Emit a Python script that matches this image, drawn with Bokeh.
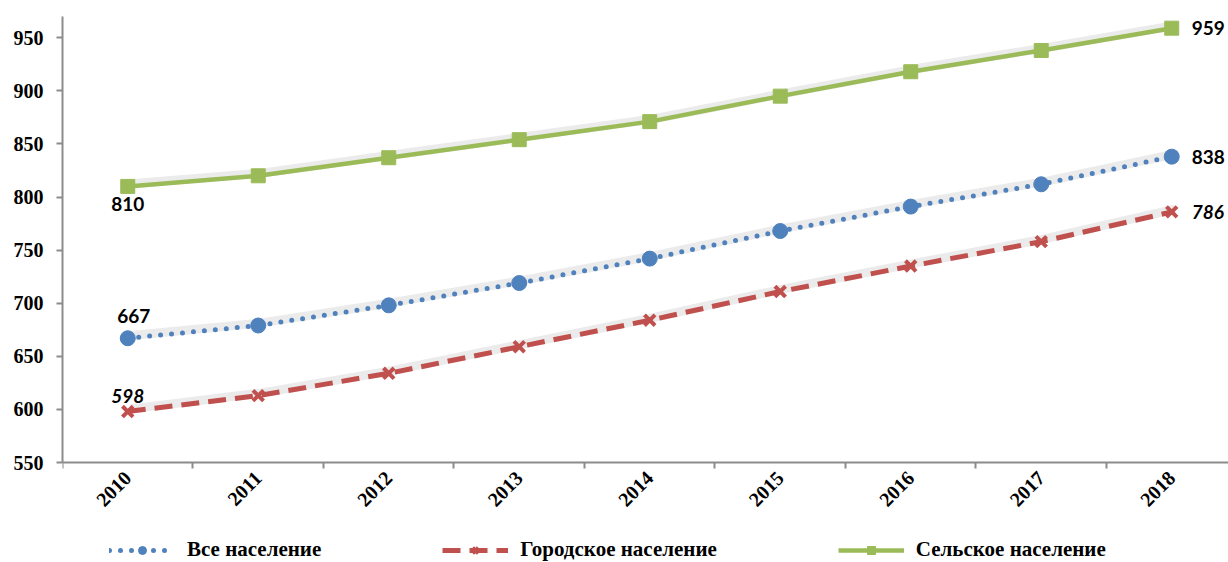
import math
from bokeh.plotting import figure
from bokeh.models import ColumnDataSource, Range1d, FixedTicker, Legend, LegendItem
from bokeh.transform import dodge
from bokeh.core.properties import value
from bokeh.embed import file_html
from bokeh.resources import INLINE

years = ["2010", "2011", "2012", "2013", "2014", "2015", "2016", "2017", "2018"]
total = [667, 679, 698, 719, 742, 768, 791, 812, 838]
urban = [598, 613, 634, 659, 684, 711, 735, 758, 786]
rural = [810, 820, 837, 854, 871, 895, 918, 938, 959]
series_names = ["Все население", "Городское население", "Сельское население"]
y_ticks = [550, 600, 650, 700, 750, 800, 850, 900, 950]
y_min, y_max = 550, 970

BLUE = "#4F81BD"
RED = "#C0504D"
GREEN = "#9BBB59"

xs = [i + 0.5 for i in range(len(years))]
src = ColumnDataSource(dict(x=xs, total=total, urban=urban, rural=rural))

# frame extends below the value axis to host the axis labels and the legend
px_per_unit = 446 / (y_max - y_min)
extra_px = 118
p = figure(frame_width=1166, frame_height=446 + extra_px, output_backend="svg",
           toolbar_location=None,
           x_range=Range1d(0, 8.935),
           y_range=Range1d(y_min - extra_px / px_per_unit, y_max),
           min_border_left=62, min_border_right=0, min_border_top=16, min_border_bottom=0)
p.outline_line_color = None
p.xgrid.visible = False
p.ygrid.visible = False
p.background_fill_color = "white"

# shadows
for col in ["rural", "total", "urban"]:
    p.line(x=dodge("x", 0.025), y=dodge(col, 2.5), source=src, line_color="#000000",
           line_alpha=0.08, line_width=9)

r_total = p.line("x", "total", source=src, line_color=BLUE, line_width=5,
                 line_dash="0 11", line_cap="round")
s_total = p.scatter("x", "total", source=src, marker="circle", size=15,
                    fill_color=BLUE, line_color=BLUE)
r_urban = p.line("x", "urban", source=src, line_color=RED, line_width=5,
                 line_dash="18 9")
s_urban = p.scatter("x", "urban", source=src, marker="x", size=15,
                    line_color=RED, line_width=4)
r_rural = p.line("x", "rural", source=src, line_color=GREEN, line_width=4.5)
s_rural = p.scatter("x", "rural", source=src, marker="square", size=14,
                    fill_color=GREEN, line_color=GREEN)

# data labels
lab_font = value("Lato")
first, last = 0, len(years) - 1
p.text(x=[xs[first]], y=[rural[first]], text=[str(rural[first])], text_font=lab_font,
       text_font_style="bold", text_font_size="19px", text_align="center",
       text_baseline="middle", y_offset=18, text_color="black")
p.text(x=[xs[first]], y=[total[first]], text=[str(total[first])], text_font=lab_font,
       text_font_style="bold", text_font_size="19px", text_align="center",
       text_baseline="middle", y_offset=-22, x_offset=6, text_color="black")
p.text(x=[xs[first]], y=[urban[first]], text=[str(urban[first])], text_font=lab_font,
       text_font_style="bold italic", text_font_size="19px", text_align="center",
       text_baseline="middle", y_offset=-16, text_color="black")
p.text(x=[xs[last]], y=[rural[last]], text=[str(rural[last])], text_font=lab_font,
       text_font_style="bold", text_font_size="19px", text_align="left",
       text_baseline="middle", x_offset=20, text_color="black")
p.text(x=[xs[last]], y=[total[last]], text=[str(total[last])], text_font=lab_font,
       text_font_style="bold", text_font_size="19px", text_align="left",
       text_baseline="middle", x_offset=20, text_color="black")
p.text(x=[xs[last]], y=[urban[last]], text=[str(urban[last])], text_font=lab_font,
       text_font_style="bold italic", text_font_size="19px", text_align="left",
       text_baseline="middle", x_offset=20, text_color="black")

# axes
serif = "Liberation Serif"
p.xaxis.fixed_location = y_min
p.xaxis.ticker = FixedTicker(ticks=xs, minor_ticks=list(range(len(years) + 1)))
p.xaxis.major_label_overrides = {x: y for x, y in zip(xs, years)}
p.xaxis.major_tick_out = 0
p.xaxis.major_tick_in = 0
p.xaxis.minor_tick_out = 6
p.xaxis.minor_tick_in = 0
p.xaxis.major_label_orientation = math.pi / 4
p.xaxis.major_label_text_font = serif
p.xaxis.major_label_text_font_style = "bold"
p.xaxis.major_label_text_font_size = "20px"
p.xaxis.major_label_text_color = "black"
p.xaxis.major_label_standoff = 6
p.xaxis.axis_line_color = "#8C8C8C"
p.xaxis.axis_line_width = 2
p.xaxis.minor_tick_line_color = "#8C8C8C"
p.xaxis.minor_tick_line_width = 2

p.yaxis.bounds = (y_min, y_max)
p.yaxis.ticker = FixedTicker(ticks=y_ticks, minor_ticks=[])
p.yaxis.major_tick_out = 6
p.yaxis.major_tick_in = 0
p.yaxis.major_label_text_font = serif
p.yaxis.major_label_text_font_style = "bold"
p.yaxis.major_label_text_font_size = "20px"
p.yaxis.major_label_text_color = "black"
p.yaxis.major_label_standoff = 13
p.yaxis.axis_line_color = "#8C8C8C"
p.yaxis.axis_line_width = 2
p.yaxis.major_tick_line_color = "#8C8C8C"
p.yaxis.major_tick_line_width = 2

legend = Legend(items=[
    LegendItem(label=series_names[0], renderers=[r_total, s_total]),
    LegendItem(label=series_names[1], renderers=[r_urban, s_urban]),
    LegendItem(label=series_names[2], renderers=[r_rural, s_rural]),
], orientation="horizontal", location=(47, 18), spacing=121, glyph_width=66,
    label_standoff=12, border_line_color=None, background_fill_alpha=0,
    label_text_font=serif, label_text_font_style="bold", label_text_font_size="21px",
    label_text_color="black", padding=2, margin=0)
p.add_layout(legend)

open("out.html", "w").write(file_html(p, INLINE))
